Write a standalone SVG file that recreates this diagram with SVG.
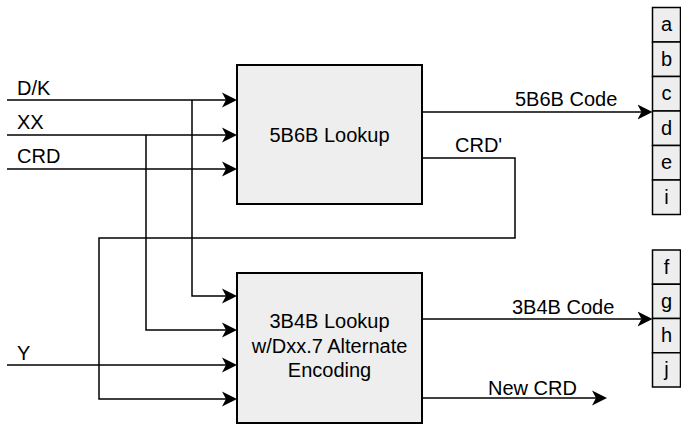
<svg xmlns="http://www.w3.org/2000/svg" width="681" height="424" viewBox="0 0 681 424">
<style>
  .box { fill: #eeeeee; stroke: #000; stroke-width: 2; }
  .cell { fill: #eeeeee; stroke: #000; stroke-width: 1.5; }
  .wire { fill: none; stroke: #000; stroke-width: 1.5; }
  .arr { marker-end: url(#ah); }
  text { font-family: "Liberation Sans", Arial, Helvetica, sans-serif; font-size: 20px; fill: #000; }
  .c { text-anchor: middle; }
</style>
<defs>
  <marker id="ah" markerUnits="userSpaceOnUse" markerWidth="16" markerHeight="16" viewBox="0 0 16 16" refX="4" refY="8" orient="auto">
    <path d="M0,0.5 L15,8 L0,15.5 L4,8 Z" fill="#000"/>
  </marker>
</defs>

<g id="connectors">
  <path class="wire arr" d="M7,100 H226"/>
  <path class="wire arr" d="M7,135 H226"/>
  <path class="wire arr" d="M7,169 H226"/>
  <path class="wire arr" d="M192,100 V296 H226"/>
  <path class="wire arr" d="M146,135 V330 H226"/>
  <path class="wire arr" d="M7,365 H226"/>
  <path class="wire arr" d="M422,158 H515 V238 H99 V399 H226"/>
  <path class="wire arr" d="M422,112 H641.5"/>
  <path class="wire arr" d="M422,319 H641.5"/>
  <path class="wire arr" d="M422,398 H596"/>
  <text x="17" y="95">D/K</text>
  <text x="17" y="129">XX</text>
  <text x="17" y="163">CRD</text>
  <text x="17" y="360">Y</text>
  <text x="515" y="106">5B6B Code</text>
  <text x="455" y="152">CRD'</text>
  <text x="512" y="314">3B4B Code</text>
  <text x="488" y="395">New CRD</text>
</g>

<g id="lookup5b6b">
  <rect class="box" x="237" y="65" width="185" height="139"/>
  <text class="c" x="329.5" y="141.5">5B6B Lookup</text>
</g>

<g id="lookup3b4b">
  <rect class="box" x="237" y="273" width="185" height="150"/>
  <text class="c" x="329.5" y="328">3B4B Lookup</text>
  <text class="c" x="329.5" y="353">w/Dxx.7 Alternate</text>
  <text class="c" x="329.5" y="377">Encoding</text>
</g>

<g id="code6b">
  <rect class="cell" x="652.5" y="7.5" width="28" height="34.5"/>
  <rect class="cell" x="652.5" y="42" width="28" height="34.5"/>
  <rect class="cell" x="652.5" y="76.5" width="28" height="34.5"/>
  <rect class="cell" x="652.5" y="111" width="28" height="34.5"/>
  <rect class="cell" x="652.5" y="145.5" width="28" height="34.5"/>
  <rect class="cell" x="652.5" y="180" width="28" height="34.5"/>
  <text class="c" x="666.5" y="31">a</text>
  <text class="c" x="666.5" y="66">b</text>
  <text class="c" x="666.5" y="100">c</text>
  <text class="c" x="666.5" y="135">d</text>
  <text class="c" x="666.5" y="169">e</text>
  <text class="c" x="666.5" y="204">i</text>
</g>

<g id="code4b">
  <rect class="cell" x="652.5" y="250" width="28" height="34.25"/>
  <rect class="cell" x="652.5" y="284.25" width="28" height="34.25"/>
  <rect class="cell" x="652.5" y="318.5" width="28" height="34.25"/>
  <rect class="cell" x="652.5" y="352.75" width="28" height="34.25"/>
  <text class="c" x="666.5" y="274">f</text>
  <text class="c" x="666.5" y="308">g</text>
  <text class="c" x="666.5" y="342">h</text>
  <text class="c" x="666.5" y="376">j</text>
</g>
</svg>
